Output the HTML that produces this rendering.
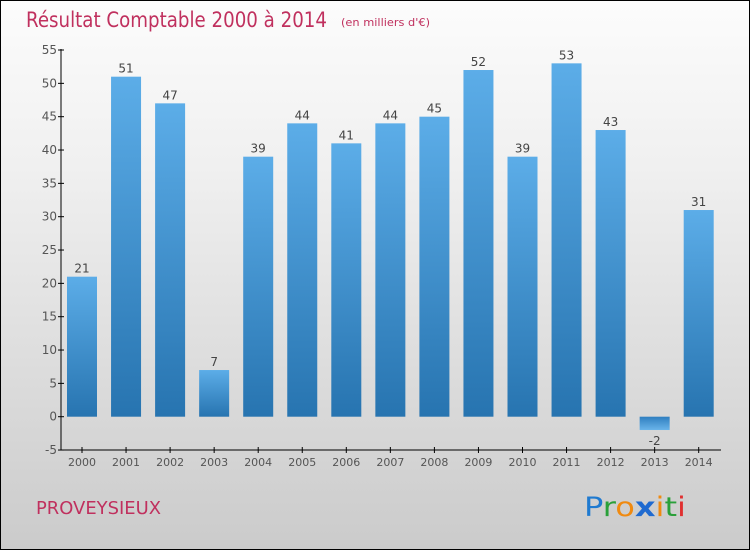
<!DOCTYPE html>
<html><head><meta charset="utf-8"><style>
body{margin:0;}
#wrap{position:relative;width:748px;height:548px;border:1px solid #000;background:linear-gradient(#fcfcfc,#f0f0f0 30%,#cbcbcb);font-family:"DejaVu Sans","Liberation Sans",sans-serif;overflow:hidden}
</style></head><body>
<div id="wrap">
<svg width="748" height="548" viewBox="1 1 748 548">
<defs>
<linearGradient id="gp" x1="0" y1="0" x2="0" y2="1"><stop offset="0" stop-color="#5cade8"/><stop offset="1" stop-color="#2774b0"/></linearGradient>
<linearGradient id="gn" x1="0" y1="0" x2="0" y2="1"><stop offset="0" stop-color="#2f7fc0"/><stop offset="1" stop-color="#6ab4ea"/></linearGradient>
</defs>
<text x="26" y="27" font-size="21" fill="#c0305e" font-family="'DejaVu Sans',sans-serif" textLength="301" lengthAdjust="spacingAndGlyphs">Résultat Comptable 2000 à 2014</text>
<text x="341" y="26" font-size="11" fill="#c0305e" textLength="89" lengthAdjust="spacingAndGlyphs">(en milliers d'€)</text>
<g id="axes"></g>
<g id="bars"></g>
<text x="36" y="514" font-size="18" fill="#c0305e" textLength="125" lengthAdjust="spacingAndGlyphs">PROVEYSIEUX</text>
<g font-size="27" font-family="'DejaVu Sans',sans-serif">
<text x="584" y="516" textLength="102" lengthAdjust="spacingAndGlyphs"><tspan fill="#1f7ad0">P</tspan><tspan fill="#2aa03a">r</tspan><tspan fill="#f08a10">o</tspan><tspan fill="#1f6ad0" font-weight="bold">x</tspan><tspan fill="#f08a10">i</tspan><tspan fill="#2aa03a">t</tspan><tspan fill="#e03030">i</tspan></text>
</g>
</svg>
</div>
<script>
const years=["2000","2001","2002","2003","2004","2005","2006","2007","2008","2009","2010","2011","2012","2013","2014"];
const values=[21,51,47,7,39,44,41,44,45,52,39,53,43,-2,31];
const yTicks=[-5,0,5,10,15,20,25,30,35,40,45,50,55];
const NS="http://www.w3.org/2000/svg";
const y=v=>416.7-v*6.667;
const x=i=>82+i*44.05;
function mk(tag,attrs,parent){const e=document.createElementNS(NS,tag);for(const k in attrs)e.setAttribute(k,attrs[k]);parent.appendChild(e);return e;}
const ax=document.getElementById('axes'),bg=document.getElementById('bars');
let l=mk('line',{x1:61,y1:49,x2:61,y2:450,stroke:'#000'},ax);


l=mk('line',{x1:61,y1:450,x2:721,y2:450,stroke:'#000'},ax);


yTicks.forEach(t=>{
 mk('line',{x1:58,x2:64,y1:y(t),y2:y(t),stroke:'#000'},ax);
 const tx=mk('text',{x:57,y:y(t)+4,'text-anchor':'end','font-size':12,fill:'#555'},ax);
 tx.textContent=t;
 
 
});
years.forEach((yr,i)=>{
 mk('line',{x1:x(i),x2:x(i),y1:447,y2:453,stroke:'#000'},ax);
 const tx=mk('text',{x:x(i),y:466,'text-anchor':'middle','font-size':11,fill:'#555'},ax);
 tx.textContent=yr;
 
 
 const v=values[i];
 const top=Math.min(y(v),y(0)),h=Math.abs(y(v)-y(0));
 const r=mk('rect',{x:x(i)-15,y:top,width:30,height:h,fill:v<0?'url(#gn)':'url(#gp)'},bg);
 
 
 const lb=mk('text',{x:x(i),y:v<0?y(v)+15:y(v)-4,'text-anchor':'middle','font-size':12,fill:'#444'},bg);
 lb.textContent=v;
 
 
});
</script>
</body></html>
